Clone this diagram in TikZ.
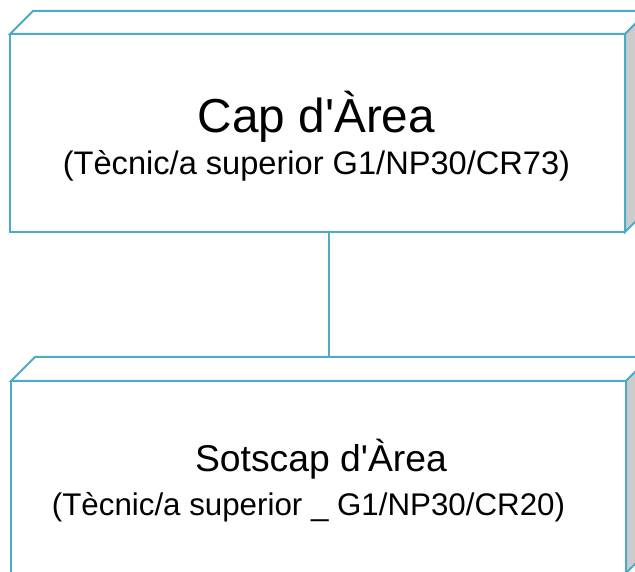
\documentclass[tikz,border=0pt]{standalone}
\usepackage{fontspec}
\setmainfont{Liberation Sans}[Ligatures=TeXOff]
\usetikzlibrary{calc}
\definecolor{edge}{HTML}{4BACC6}
\definecolor{sidegray}{HTML}{CCCCCC}
\tikzset{
  front/.style={draw=edge, line width=2pt, fill=white, minimum width=615pt, minimum height=#1, inner sep=0pt, outer sep=0pt},
  face/.style={draw=edge, line width=2pt, line join=miter, fill=white},
  sideface/.style={draw=edge, line width=2pt, line join=miter, fill=sidegray},
  link/.style={draw=edge, line width=2pt},
  ttl/.style={anchor=base, inner sep=0pt},
}
\begin{document}
\begin{tikzpicture}[x=1pt,y=1pt]
\useasboundingbox (0,0) rectangle (635,571);
\clip (0,0) rectangle (635,571);
% top box
\node[front=198pt] (A) at (317.5,438) {};
\path[face] (A.north west) -- ++(23,23) -- ++(615,0) -- (A.north east) -- cycle;
\path[sideface] (A.north east) -- ++(23,23) -- ++(0,-198) -- (A.south east) -- cycle;
\node[ttl, font=\fontsize{47.7}{55}\selectfont] (t1) at (316.5,438) {Cap d'Àrea};
\node[ttl, font=\fontsize{32.6}{38}\selectfont] (s1) at (316.5,396) {(Tècnic/a superior G1/NP30/CR73)};
% bottom box
\node[front=192pt] (B) at (318.5,94) {};
\path[face] (B.north west) -- ++(24,24) -- ++(615,0) -- (B.north east) -- cycle;
\path[sideface] (B.north east) -- ++(24,24) -- ++(0,-192) -- (B.south east) -- cycle;
\node[ttl, font=\fontsize{37.3}{44}\selectfont] (t2) at (321,99.3) {Sotscap d'Àrea};
\node[ttl, font=\fontsize{31.3}{37}\selectfont] (s2) at (308.5,56) {(Tècnic/a superior \_ G1/NP30/CR20)};
% connector
\coordinate (ca) at ($(A.south)+(11.5,0)$);
\coordinate (cb) at ($(B.north)+(10.5,24)$);
\path[link] (ca) -- (cb);
\end{tikzpicture}
\end{document}
